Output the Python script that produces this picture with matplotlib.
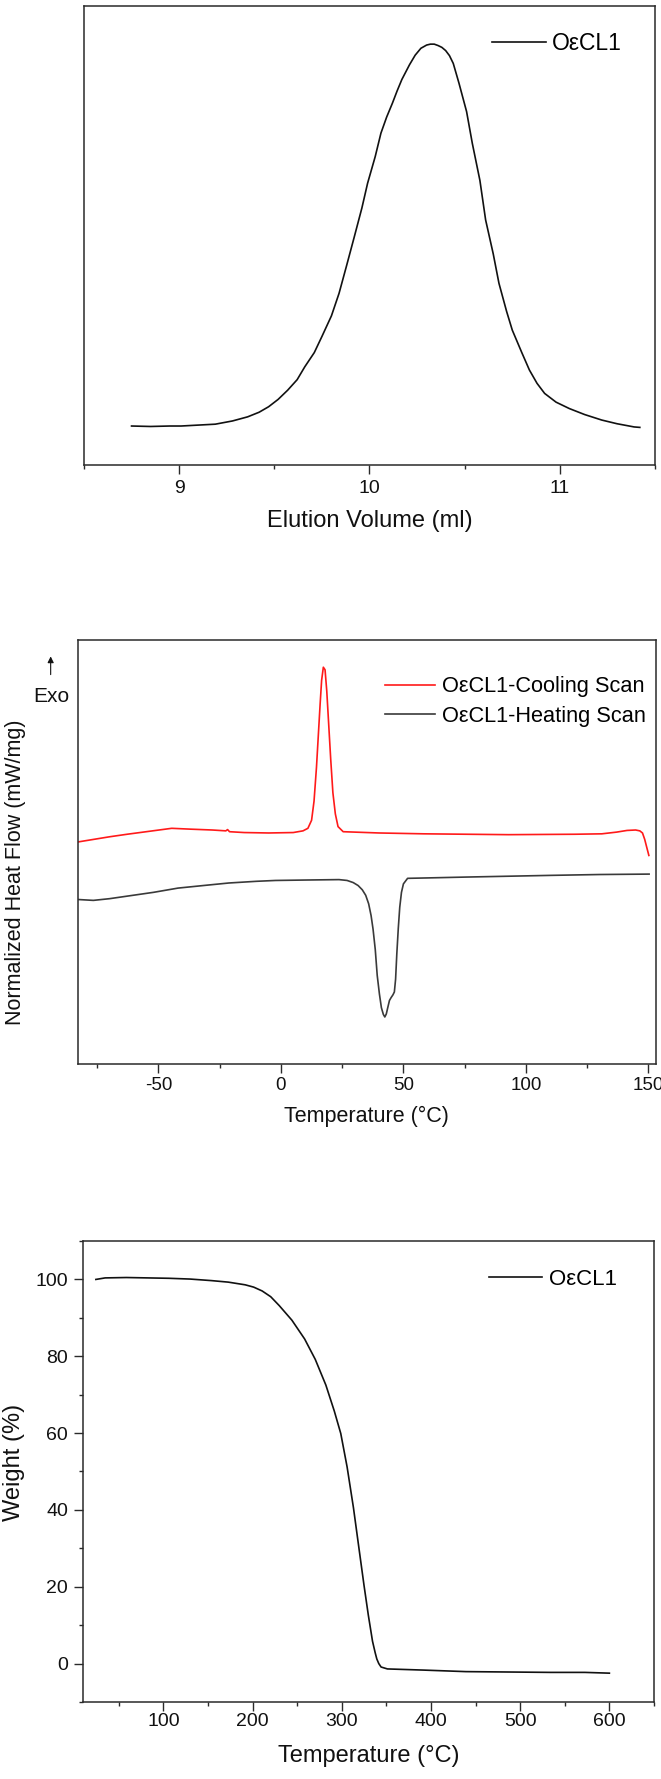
#!/usr/bin/env python3
"""GPC / DSC / TGA curves of OεCL1, stacked in one tall figure."""

import matplotlib

matplotlib.use("Agg")
import matplotlib.pyplot as plt
from matplotlib.ticker import MultipleLocator

plt.rcParams["font.family"] = ["Liberation Sans", "DejaVu Sans"]
plt.rcParams["axes.unicode_minus"] = False

# GPC trace (normalized detector signal)
gpc_x = [8.75, 8.85, 8.95, 9.01, 9.10, 9.19, 9.28, 9.36, 9.42, 9.47, 9.52, 9.57,
         9.62, 9.66, 9.71, 9.75, 9.80, 9.84, 9.88, 9.92, 9.96, 9.99, 10.03,
         10.06, 10.09, 10.12, 10.145, 10.17, 10.21, 10.24, 10.27, 10.30, 10.32,
         10.34, 10.36, 10.38, 10.40, 10.42, 10.44, 10.47, 10.51, 10.54, 10.58,
         10.61, 10.65, 10.68, 10.72, 10.75, 10.80, 10.84, 10.88, 10.92, 10.98,
         11.05, 11.13, 11.22, 11.30, 11.39, 11.42]
gpc_y = [0.085, 0.084, 0.085, 0.085, 0.087, 0.089, 0.096, 0.105, 0.115, 0.127,
         0.143, 0.163, 0.186, 0.214, 0.245, 0.280, 0.325, 0.374, 0.435, 0.497,
         0.560, 0.614, 0.672, 0.723, 0.758, 0.788, 0.815, 0.840, 0.872, 0.893,
         0.908, 0.915, 0.917, 0.917, 0.914, 0.910, 0.903, 0.892, 0.875, 0.832,
         0.770, 0.701, 0.620, 0.534, 0.460, 0.396, 0.335, 0.294, 0.245, 0.207,
         0.178, 0.156, 0.137, 0.123, 0.110, 0.098, 0.090, 0.083, 0.082]

# DSC cooling scan
cool_x = [-82.7, -70, -62.8, -55, -44.6, -36.9, -28, -22.5, -21.8, -21, -15, -5,
          5, 9, 11, 12.5, 13.5, 14.5, 15.3, 16.0, 16.6, 17.3, 18.0, 18.7, 19.5,
          20.3, 21.2, 22.2, 23.3, 25.4, 40, 58.3, 92.9, 120, 131, 137, 141.3,
          144.8, 146.5, 147.6, 148.5, 149.3, 150.2]
cool_y = [0.524, 0.536, 0.542, 0.548, 0.556, 0.554, 0.552, 0.550, 0.553, 0.548,
          0.546, 0.545, 0.546, 0.550, 0.556, 0.575, 0.620, 0.700, 0.780, 0.850,
          0.905, 0.936, 0.930, 0.880, 0.800, 0.720, 0.640, 0.590, 0.560, 0.548,
          0.545, 0.543, 0.541, 0.542, 0.543, 0.547, 0.551, 0.552, 0.550, 0.545,
          0.530, 0.512, 0.492]

# DSC heating scan
heat_x = [-82.7, -76.6, -70, -62.8, -52, -42, -30, -21.3, -10, -2.2, 10, 23.7,
          27, 29.5, 31.5, 33.2, 34.6, 35.8, 36.8, 37.6, 38.5, 39.3, 40.2, 41.0,
          41.8, 42.4, 43.0, 43.6, 44.3, 45.0, 45.7, 46.3, 46.8, 47.3, 47.9, 48.5,
          49.2, 50.0, 51.7, 60, 75.6, 110.2, 130, 150.3]
heat_y = [0.388, 0.386, 0.390, 0.396, 0.405, 0.415, 0.422, 0.427, 0.431, 0.433,
          0.434, 0.435, 0.433, 0.428, 0.421, 0.411, 0.398, 0.378, 0.350, 0.318,
          0.270, 0.209, 0.165, 0.133, 0.117, 0.111, 0.118, 0.133, 0.150, 0.157,
          0.163, 0.170, 0.200, 0.260, 0.320, 0.370, 0.405, 0.425, 0.438, 0.439,
          0.441, 0.445, 0.447, 0.448]

# TGA weight loss
tga_x = [24.4, 34.8, 58.6, 106.2, 130.0, 153.8, 172.8, 191.8, 201.3, 210.8,
         220.4, 229.9, 244.1, 258.4, 270.3, 282.2, 291.7, 298.9, 306.0, 313.1,
         319.3, 325.0, 329.8, 334.5, 337.5, 339.3, 341.5, 344.1, 351.2, 391.6,
         439.2, 486.8, 534.3, 572.4, 600.0]
tga_y = [100.0, 100.4, 100.5, 100.3, 100.1, 99.7, 99.3, 98.6, 98.0, 97.0, 95.5,
         93.2, 89.4, 84.5, 79.2, 72.5, 65.7, 59.9, 51.2, 40.6, 30.0, 20.3, 12.6,
         5.8, 2.8, 1.2, 0.0, -0.9, -1.4, -1.7, -2.1, -2.2, -2.3, -2.3, -2.5]

SPINE = "#2a2a2a"
TXT = "#111111"


def style_axes(ax, tick_size, xpad):
    for sp in ax.spines.values():
        sp.set_color(SPINE)
        sp.set_linewidth(1.1)
    ax.tick_params(which="both", direction="out", colors=SPINE, labelcolor=TXT,
                   labelsize=tick_size, width=1.0)
    ax.tick_params(which="major", length=6.2)
    ax.tick_params(which="minor", length=3)
    ax.tick_params(axis="x", pad=xpad)


fig = plt.figure(figsize=(6.61, 17.79), dpi=100)

# --- GPC ---
ax1 = fig.add_axes([0.127, 0.7386, 0.864, 0.258])
ax1.plot(gpc_x, gpc_y, color="#111111", lw=1.2, label="OεCL1")
ax1.set_xlim(8.5, 11.5)
ax1.set_ylim(0, 1)
ax1.set_yticks([])
ax1.xaxis.set_major_locator(MultipleLocator(1))
ax1.xaxis.set_minor_locator(MultipleLocator(0.5))
style_axes(ax1, 14, 4.5)
ax1.set_xlabel("Elution Volume (ml)", fontsize=17, color=TXT)
ax1.xaxis.set_label_coords(0.5, -0.0987)
ax1.legend(loc="center right", bbox_to_anchor=(0.942, 0.919), frameon=False,
           fontsize=16.5, handlelength=2.36, handletextpad=0.27, borderpad=0,
           borderaxespad=0)

# --- DSC ---
ax2 = fig.add_axes([0.1175, 0.4019, 0.8745, 0.2383])
ax2.plot(cool_x, cool_y, color="#ff1a1a", lw=1.2, label="OεCL1-Cooling Scan")
ax2.plot(heat_x, heat_y, color="#3a3a3a", lw=1.2, label="OεCL1-Heating Scan")
ax2.set_xlim(-83, 153)
ax2.set_ylim(0, 1)
ax2.set_yticks([])
ax2.xaxis.set_major_locator(MultipleLocator(50))
ax2.xaxis.set_minor_locator(MultipleLocator(25))
style_axes(ax2, 13.5, 3.5)
ax2.set_xlabel("Temperature (°C)", fontsize=15.5, color=TXT)
ax2.xaxis.set_label_coords(0.5, -0.098)
ax2.set_ylabel("Normalized Heat Flow (mW/mg)", fontsize=15.5, color=TXT)
ax2.yaxis.set_label_coords(-0.090, 0.453)
ax2.legend(loc="center right", bbox_to_anchor=(0.983, 0.855), frameon=False,
           fontsize=15.7, handlelength=2.3, handletextpad=0.3, borderpad=0,
           borderaxespad=0, labelspacing=0.4)
ax2.annotate("", xy=(-0.0467, 0.968), xytext=(-0.0467, 0.912),
             xycoords="axes fraction", textcoords="axes fraction",
             annotation_clip=False,
             arrowprops=dict(arrowstyle="-|>", color=TXT, lw=0.8,
                             mutation_scale=9))
ax2.text(-0.045, 0.868, "Exo", transform=ax2.transAxes, fontsize=15,
         color=TXT, ha="center", va="center")

# --- TGA ---
ax3 = fig.add_axes([0.1256, 0.0433, 0.8638, 0.2591])
ax3.plot(tga_x, tga_y, color="#111111", lw=1.2, label="OεCL1")
ax3.set_xlim(10, 650)
ax3.set_ylim(-10, 110)
ax3.xaxis.set_major_locator(MultipleLocator(100))
ax3.xaxis.set_minor_locator(MultipleLocator(50))
ax3.yaxis.set_major_locator(MultipleLocator(20))
ax3.yaxis.set_minor_locator(MultipleLocator(10))
style_axes(ax3, 14, 2)
ax3.tick_params(axis="y", pad=4.5)
ax3.set_xlabel("Temperature (°C)", fontsize=17, color=TXT)
ax3.xaxis.set_label_coords(0.5, -0.094)
ax3.set_ylabel("Weight (%)", fontsize=17, color=TXT)
ax3.yaxis.set_label_coords(-0.1016, 0.52)
ax3.legend(loc="center right", bbox_to_anchor=(0.935, 0.917), frameon=False,
           fontsize=16, handlelength=2.4, handletextpad=0.3, borderpad=0,
           borderaxespad=0)

fig.savefig("out.png", dpi=100)
